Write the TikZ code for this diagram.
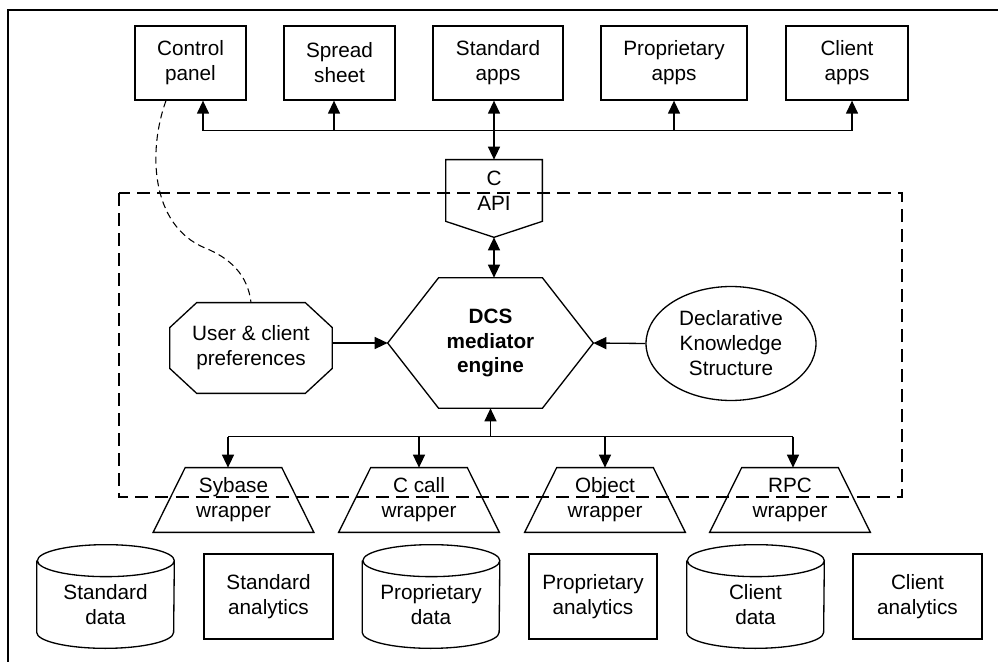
\documentclass[tikz,border=0pt]{standalone}
\usepackage{fontspec}
\setmainfont{Liberation Sans}
\usetikzlibrary{arrows.meta,calc,shapes.geometric}
\begin{document}
\begin{tikzpicture}[x=0.02cm,y=-0.02cm,
  lw/.style={line width=0.75pt},
  txt/.style={font=\fontsize{11.8pt}{14.2pt}\selectfont, align=center, inner sep=0pt},
  appbox/.style={txt, draw, lw, minimum height=1.48cm, minimum width=#1},
  anbox/.style={txt, draw, lw, minimum height=1.7cm, minimum width=#1},
  conn/.style={lw, -{Triangle[length=0.26cm,width=0.24cm]}},
  dconn/.style={lw, {Triangle[length=0.26cm,width=0.24cm]}-{Triangle[length=0.26cm,width=0.24cm]}},
  frameline/.style={line width=0.9pt},
  boundary/.style={line width=1.1pt, dash pattern=on 7.4pt off 4pt},
  link/.style={line width=0.6pt, dash pattern=on 4pt off 2.5pt},
]
\useasboundingbox (0,0) rectangle (998,662);
\draw[frameline] (8,662) -- (8,10) -- (998,10);

% top application boxes
\node[appbox=2.22cm] (cp) at (190.5,63) {Control\\panel};
\node[appbox=2.22cm] (ss) at (339.5,63) {Spread\\sheet};
\node[appbox=2.6cm]  (sa) at (498,63) {Standard\\apps};
\node[appbox=2.92cm] (pa) at (674,63) {Proprietary\\apps};
\node[appbox=2.44cm] (ca) at (847,63) {Client\\apps};

% C API
\node[txt, minimum width=1.92cm, minimum height=1.22cm] (capi) at (494,190.5) {C\\API};
\coordinate (capitip) at ($(capi.south)+(0,16)$);
\draw[lw] (capi.north west) -- (capi.north east) -- (capi.south east) -- (capitip) -- (capi.south west) -- cycle;

% top bus
\coordinate (tbL) at ($(cp.south)+(12.5,30)$);
\coordinate (tbR) at ($(ca.south)+(5,30)$);
\coordinate (ssA) at ($(ss.south)+(-5.5,0)$);
\draw[lw] (tbL) -- (tbR);
\draw[conn] (tbL) -- (tbL |- cp.south);
\draw[conn] (ssA |- tbL) -- (ssA);
\draw[dconn] (capi.north) -- (capi.north |- sa.south);
\draw[conn] (pa.south |- tbL) -- (pa.south);
\draw[conn] (tbR) -- (tbR |- ca.south);

% DCS mediator engine
\node[txt, font=\fontsize{11.8pt}{13.9pt}\selectfont\bfseries, minimum width=4.1cm, minimum height=2.6cm] (dcs) at (490.5,343) {DCS\\mediator\\engine};
\draw[lw] (dcs.west) -- ([xshift=1.02cm]dcs.north west) -- ([xshift=-1.02cm]dcs.north east) -- (dcs.east) -- ([xshift=-1.02cm]dcs.south east) -- ([xshift=1.02cm]dcs.south west) -- cycle;
\draw[dconn] (capitip) -- (capitip |- dcs.north);

% preferences octagon
\node[txt, minimum width=3.24cm, minimum height=1.8cm] (pref) at (251,348) {User \& client\\preferences};
\draw[lw] ([xshift=0.54cm]pref.north west) -- ([xshift=-0.54cm]pref.north east) -- ([yshift=-0.5cm]pref.north east) -- ([yshift=0.5cm]pref.south east) -- ([xshift=-0.54cm]pref.south east) -- ([xshift=0.54cm]pref.south west) -- ([yshift=0.5cm]pref.south west) -- ([yshift=-0.5cm]pref.north west) -- cycle;
\draw[conn] (pref.east |- dcs.west) -- (dcs.west);

% knowledge ellipse
\node[txt, draw, lw, ellipse, minimum width=3.4cm, minimum height=2.28cm] (kn) at (731,343.5) {Declarative\\Knowledge\\Structure};
\draw[conn] (kn.west) -- (dcs.east);

% dashed link from control panel to preferences
\coordinate (cpd) at ($(cp.south)+(-24.5,0)$);
\draw[link] (cpd) .. controls (148,150) and (150,225) .. (205,248) .. controls (230,258) and (248,275) .. (pref.north);

% mediator boundary
\draw[boundary] (119,193) rectangle (902,497);

% wrappers
\node[txt, minimum width=3.2cm, minimum height=1.28cm] (syb) at (233.5,500) {Sybase\\wrapper};
\node[txt, minimum width=3.2cm, minimum height=1.28cm] (ccl) at (419,500) {C call\\wrapper};
\node[txt, minimum width=3.2cm, minimum height=1.28cm] (obj) at (605,500) {Object\\wrapper};
\node[txt, minimum width=3.2cm, minimum height=1.28cm] (rpc) at (790,500) {RPC\\wrapper};
\foreach \w in {syb,ccl,obj,rpc}
  \draw[lw] (\w.south west) -- (\w.south east) -- ([xshift=-0.64cm]\w.north east) -- ([xshift=0.64cm]\w.north west) -- cycle;

% lower bus
\coordinate (bbL) at ($(syb.north)+(-5.5,-31)$);
\coordinate (bbR) at ($(rpc.north)+(3,-31)$);
\draw[lw] (bbL) -- (bbR);
\draw[conn] (bbL) -- (bbL |- syb.north);
\draw[conn] (ccl.north |- bbL) -- (ccl.north);
\draw[conn] (obj.north |- bbL) -- (obj.north);
\draw[conn] (bbR) -- (bbR |- rpc.north);
\draw[conn] (dcs.south |- bbL) -- (dcs.south);

% data stores
\node[txt, minimum width=2.74cm, minimum height=1.74cm] (sd) at (105.5,604.5) {Standard\\data};
\node[txt, minimum width=2.74cm, minimum height=1.74cm] (pd) at (431,604.5) {Proprietary\\data};
\node[txt, minimum width=2.74cm, minimum height=1.74cm] (cd) at (755.5,604.5) {Client\\data};
\foreach \c in {sd,pd,cd}
  \draw[lw] (\c.north west) -- ([yshift=0.32cm]\c.south west) arc[start angle=180,end angle=360,x radius=1.37cm,y radius=0.32cm] -- (\c.north east) arc[start angle=0,end angle=360,x radius=1.37cm,y radius=0.32cm];

% analytics
\node[anbox=2.58cm] (san) at (268.5,596.5) {Standard\\analytics};
\node[anbox=2.56cm] (pan) at (593,596.5) {Proprietary\\analytics};
\node[anbox=2.58cm] (can) at (917.5,596.5) {Client\\analytics};
\end{tikzpicture}
\end{document}
